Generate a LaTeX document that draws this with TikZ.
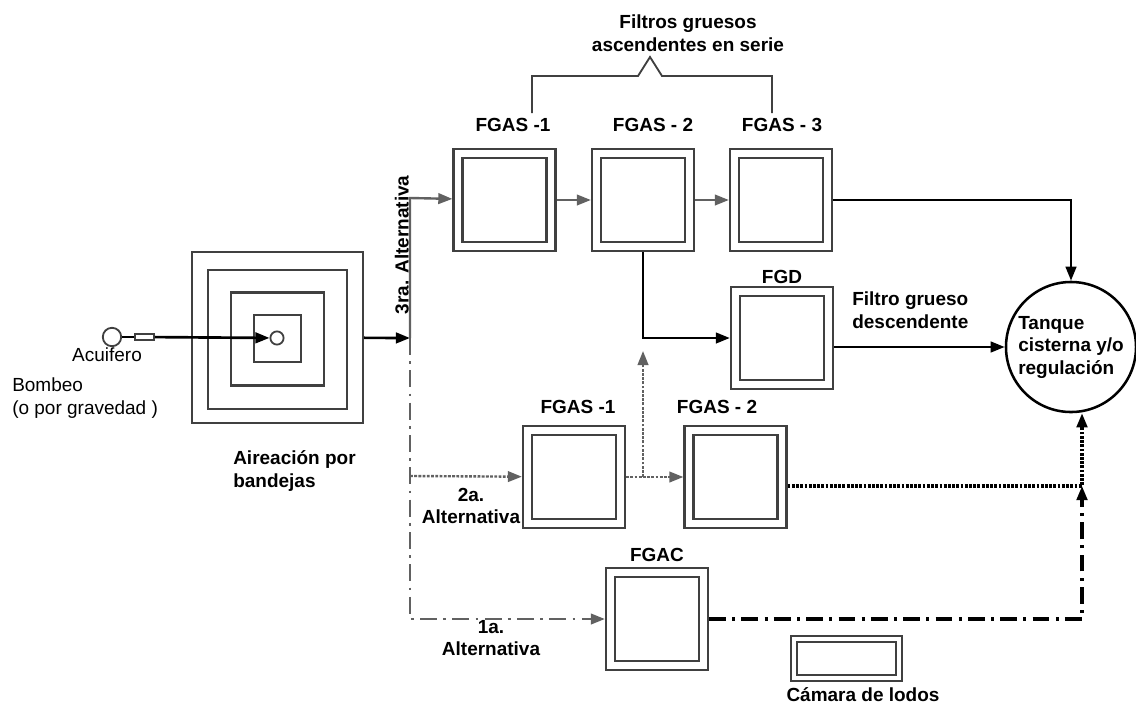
\documentclass[tikz,border=0pt]{standalone}
\usepackage{fontspec}
\setmainfont{Liberation Sans}
\usetikzlibrary{arrows.meta}

\begin{document}
\begin{tikzpicture}[x=0.025cm,y=-0.025cm,filt/.style={draw=black!75,line width=1.5pt,double=white,double distance=4.9pt,minimum size=2.325cm,inner sep=0pt,outer sep=4pt},sq/.style={draw=black!75,line width=1.5pt,minimum size=#1,inner sep=0pt},lbl/.style={font=\fontsize{13.5}{16}\selectfont\bfseries,inner sep=0pt},txt/.style={font=\fontsize{13.5}{16}\selectfont,inner sep=0pt},a/.style={-{Triangle[length=10pt,width=7.5pt]},line width=1.9pt,draw=black},g/.style={a,line width=1.7pt,draw=black!62},dots/.style={dash pattern=on 2pt off 1pt},dashdot/.style={dash pattern=on 12pt off 4.5pt on 2pt off 4.5pt}]
\path[fill=white,use as bounding box] (0,0) rectangle (1136,704);
% aireacion
\node[sq=4.275cm] (aer1) at (277.5,337.5) {};
\node[sq=3.475cm] (aer2) at (277.5,339.5) {};
\node[sq=2.325cm] (aer3) at (277.5,339) {};
\node[sq=1.175cm] (aer4) at (277.5,338.5) {};
\node[draw=black!75,circle,line width=1.3pt,minimum size=.33cm,inner sep=0pt] (dot) at (277,338) {};
\node[draw=black!75,circle,line width=1.3pt,minimum size=.46cm,inner sep=0pt] (acu) at (112,337) {};
\node[draw=black!75,line width=1.1pt,minimum width=.475cm,minimum height=.15cm,inner sep=0pt] (valv) at (144.5,337) {};
\node[txt] (acut) at (107,355) {Acuifero};
\node[txt,anchor=west,align=left] (bomb) at (12,398) {Bombeo\\(o por gravedad )};
\node[lbl,anchor=west,align=left] (aert) at (233,471) {Aireación por\\bandejas};
% filtros
\node[filt] (fa1) at (504.5,200) {};
\node[filt] (fa2) at (643,200) {};
\node[filt] (fa3) at (781,200) {};
\node[filt] (fgd) at (782,338) {};
\node[filt] (fb1) at (574,477) {};
\node[filt] (fb2) at (735.5,477) {};
\node[filt] (fac) at (657,619) {};
\node[draw=black!75,line width=1.5pt,double=white,double distance=2.6pt,minimum width=2.625cm,minimum height=.975cm,inner sep=0pt] (cam) at (846.5,658.5) {};
\node[lbl] (fa1t) at (513,125) {FGAS -1};
\node[lbl] (fa2t) at (653,125) {FGAS - 2};
\node[lbl] (fa3t) at (782,125) {FGAS - 3};
\node[lbl] (fgdt) at (782,277) {FGD};
\node[lbl] (fb1t) at (578,407) {FGAS -1};
\node[lbl] (fb2t) at (717,407) {FGAS - 2};
\node[lbl] (fact) at (657,555) {FGAC};
\node[lbl] (camt) at (863,695) {Cámara de lodos};
\node[lbl,align=center] (serie) at (688,33) {Filtros gruesos\\ascendentes en serie};
\node[lbl,anchor=west,align=left] (fgdd) at (852,310) {Filtro grueso\\descendente};
\node[lbl,draw,circle,line width=1.8pt,minimum size=3.25cm,align=left] (tank) at (1071,347) {Tanque\\cisterna y/o\\regulación};
\node[lbl,rotate=90,anchor=south] (alt3) at (409,245) {3ra. Alternativa};
\node[lbl,align=center] (alt2) at (471,506) {2a.\\Alternativa};
\node[lbl,align=center] (alt1) at (491,638) {1a.\\Alternativa};
\draw[line width=1.3pt,draw=black!75] (532,113) -- (532,76) -- (638,76) -- (650,57) -- (662,76) -- (772,76) -- (772,113);
\coordinate (junc) at (410,338);
\coordinate (j3) at (410,198);
\coordinate (j2) at (410,476);
\coordinate (br) at (643,477);
\coordinate (brt) at (643,351);
\coordinate (jd) at (1082,486);
% conexiones
\draw[line width=1.5pt] (acu) -- (valv);
\draw[a] (valv) -- (dot);
\draw[a] (aer1) -- (junc);
\draw[g] (junc) -- (j3) -- (fa1);
\draw[g] (fa1) -- (fa2); \draw[g] (fa2) -- (fa3);
\draw[a] (fa3) -| (tank);
\draw[a] (fa2) |- (fgd);
\draw[a] (fgd.east |- tank) -- (tank);
\draw[g,dots] (j2) -- (fb1);
\draw[g,dots] (fb1) -- (fb2);
\draw[g,dots] (br) -- (brt);
\draw[a,dots,line width=2.2pt] (fb2.east |- jd) -- (jd) -- (jd |- tank.south);
\draw[g,dashdot] (junc) |- (fac);
\draw[a,dashdot,line width=2.2pt] (fac) -| (jd);
\end{tikzpicture}
\end{document}
